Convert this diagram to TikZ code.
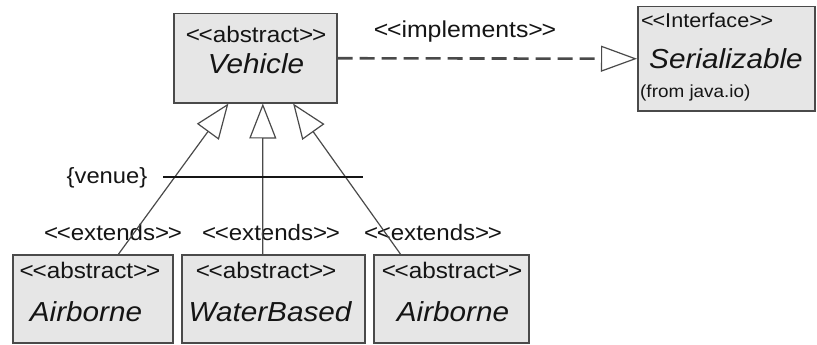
\documentclass[tikz,border=0pt]{standalone}
\usepackage{fontspec}
\setmainfont[FakeStretch=1.08]{Liberation Sans}
\usetikzlibrary{arrows.meta,calc}
\definecolor{boxfill}{HTML}{E6E6E6}
\definecolor{boxline}{HTML}{4A4A4A}
\definecolor{ink}{HTML}{151515}
\newcommand{\LLt}{<\kern-0.06em<}
\newcommand{\GGt}{>\kern-0.06em>}
\begin{document}
\begin{tikzpicture}[x=1pt,y=-1pt,
  cls/.style={draw=boxline, line width=1.5pt, fill=boxfill, inner sep=0pt, anchor=north west},
  txt/.style={inner sep=0pt, text=ink, anchor=base},
  txtw/.style={inner sep=0pt, text=ink, anchor=base west},
  stereo/.style={font=\fontsize{22.5}{22.5}\selectfont},
  cname/.style={font=\fontsize{27.5}{27.5}\selectfont\itshape},
  extlbl/.style={font=\fontsize{22.3}{22.3}\selectfont},
  gen/.style={draw=boxline, line width=1.2pt, -{Triangle[open, length=35pt, width=27pt, fill=white]}},
  impl/.style={draw=boxline, line width=2.6pt, dash pattern=on 15pt off 7pt,
    -{Triangle[open, length=36pt, width=26pt, line width=1.2pt, fill=white]}},
]
\useasboundingbox[fill=white] (0,0) rectangle (817,345);

% class boxes
\node[cls, minimum width=163pt, minimum height=89pt] (veh) at (173,13) {};
\node[cls, minimum width=177pt, minimum height=104pt] (ser) at (637,6) {};
\node[cls, minimum width=160pt, minimum height=88pt] (air1) at (12,254) {};
\node[cls, minimum width=183pt, minimum height=88pt] (wat) at (181,254) {};
\node[cls, minimum width=155pt, minimum height=88pt] (air2) at (373,254) {};

% texts in boxes
\node[txt, stereo] (vehst) at (256,43) {\LLt abstract\GGt};
\node[txt, cname] (vehnm) at (256,74) {Vehicle};
\node[txtw, font=\fontsize{20}{20}\selectfont] (serst) at (641,28) {\LLt Interface\GGt};
\node[txt, cname] (sernm) at (726,69) {Serializable};
\node[txtw, font=\fontsize{17.5}{17.5}\selectfont] (serfrom) at (640,97) {(from java.io)};
\node[txt, stereo] (air1st) at (90,278) {\LLt abstract\GGt};
\node[txt, cname] (air1nm) at (86,321) {Airborne};
\node[txt, stereo] (watst) at (266,278) {\LLt abstract\GGt};
\node[txt, cname] (watnm) at (270,321) {WaterBased};
\node[txt, stereo] (air2st) at (452,278) {\LLt abstract\GGt};
\node[txt, cname] (air2nm) at (453,321) {Airborne};

% labels
\node[txt, font=\fontsize{23}{23}\selectfont] (implbl) at (465,38) {\LLt implements\GGt};
\node[txt, font=\fontsize{22}{22}\selectfont] (venue) at (107,183) {\{venue\}};
\node[txt, extlbl] (ext1) at (113,240) {\LLt extends\GGt};
\node[txt, extlbl] (ext2) at (271,240) {\LLt extends\GGt};
\node[txt, extlbl] (ext3) at (433,240) {\LLt extends\GGt};

% connectors
\draw[impl] (veh.east) -- (ser.west);
\draw[gen] ($(air1.north west)!0.66!(air1.north east)$) -- ($(veh.south west)!0.337!(veh.south east)$);
\draw[gen] ($(wat.north west)!0.443!(wat.north east)$) -- ($(veh.south west)!0.546!(veh.south east)$);
\draw[gen] ($(air2.north west)!0.175!(air2.north east)$) -- ($(veh.south west)!0.73!(veh.south east)$);

\coordinate (vend) at (363,177);
\draw[draw=ink, line width=2pt] (163,177) -- (vend);
\end{tikzpicture}
\end{document}
